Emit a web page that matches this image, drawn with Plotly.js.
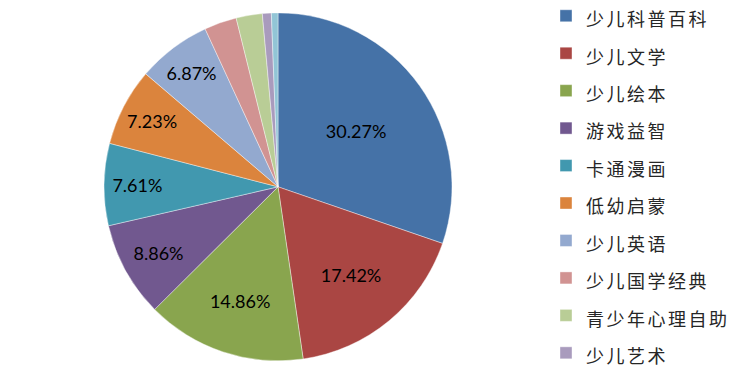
<!DOCTYPE html>
<html><head><meta charset="utf-8">
<script src="https://cdn.plot.ly/plotly-3.0.1.min.js"></script>
<style>html,body{margin:0;padding:0;background:#fff}#chart{width:750px;height:379px}.legend .scrollbar{display:none}</style>
</head><body><div id="chart"></div>
<script>
const categories = ['少儿科普百科','少儿文学','少儿绘本','游戏益智','卡通漫画','低幼启蒙','少儿英语','少儿国学经典','青少年心理自助','少儿艺术','其他'];
const shares = [30.27, 17.42, 14.86, 8.86, 7.61, 7.23, 6.87, 3.01, 2.43, 0.83, 0.61];
const colors = ['#4572A7','#AA4643','#89A54E','#71588F','#4198AF','#DB843D','#93A9CF','#D19392','#B9CD96','#A99BBD','#92C5D6'];
const labelThreshold = 5;

const legendLabels = categories.map(c => '<span style="font-size:18px;letter-spacing:2.5px">' + c + '</span>');
const templates = shares.map(v => v >= labelThreshold ? '%{value:.2f}%' : '');

const trace = {
  type: 'pie',
  labels: legendLabels,
  values: shares,
  sort: false,
  direction: 'clockwise',
  rotation: 0,
  marker: {colors: colors, line: {color: '#ffffff', width: 0.4}},
  texttemplate: templates,
  textposition: 'inside',
  insidetextorientation: 'horizontal',
  textfont: {family: 'Lato, "Liberation Sans", sans-serif', size: 18, color: '#000000'},
  hoverinfo: 'none',
  domain: {x: [0.1387, 0.6027], y: [0.048, 0.966]}
};

const layout = {
  width: 750, height: 379,
  margin: {l: 0, r: 0, t: 0, b: 0, autoexpand: false},
  paper_bgcolor: '#ffffff',
  showlegend: true,
  legend: {
    x: 0.728, xanchor: 'left', y: 1.021, yanchor: 'top',
    maxheight: 1,
    font: {family: '"Noto Sans CJK SC", sans-serif', size: 26.5, color: '#262626'},
    itemwidth: 30,
    bgcolor: 'rgba(0,0,0,0)'
  }
};

Plotly.newPlot('chart', [trace], layout, {staticPlot: true, displayModeBar: false});
</script>
</body></html>
